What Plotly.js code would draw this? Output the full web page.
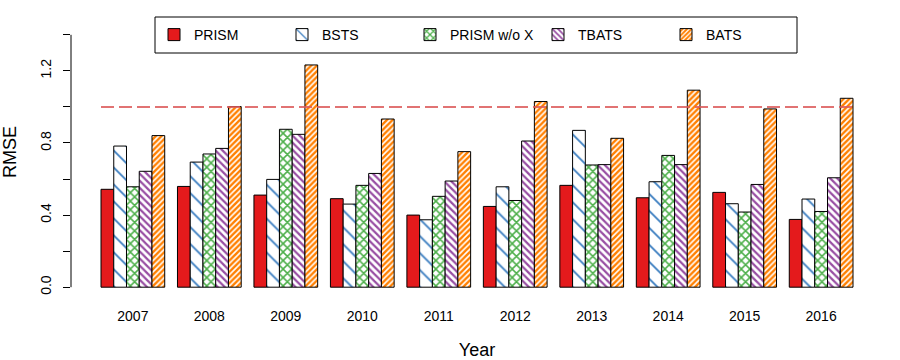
<!DOCTYPE html>
<html>
<head>
<meta charset="utf-8">
<script src="https://cdn.plot.ly/plotly-3.0.1.min.js"></script>
<style>html,body{margin:0;padding:0;background:#fff;}#chart{width:900px;height:360px;}</style>
</head>
<body>
<div id="chart"></div>
<script>
const years = ['2007','2008','2009','2010','2011','2012','2013','2014','2015','2016'];
const seriesNames = ['PRISM','BSTS','PRISM w/o X','TBATS','BATS'];
const prism    = [0.543,0.559,0.511,0.491,0.400,0.448,0.565,0.496,0.526,0.376];
const bsts     = [0.783,0.694,0.598,0.461,0.374,0.557,0.870,0.585,0.463,0.489];
const prismNoX = [0.557,0.739,0.876,0.565,0.504,0.481,0.678,0.731,0.417,0.420];
const tbats    = [0.643,0.770,0.848,0.631,0.589,0.811,0.680,0.680,0.570,0.607];
const bats     = [0.841,1.002,1.233,0.933,0.752,1.030,0.826,1.093,0.989,1.048];
const refLevel = 1.0;
const yTickVals = [0,0.2,0.4,0.6,0.8,1.0,1.2,1.4];
const yTickText = ['0.0','','0.4','','0.8','','1.2',''];

const FONT = 'Liberation Sans, Arial, Helvetica, sans-serif';
const values = [prism,bsts,prismNoX,tbats,bats];
const fills = [
  {color:'#E41A1C', pattern:{shape:''}},
  {color:'#FFFFFF', pattern:{shape:'\\', fgcolor:'#3A7DC0', bgcolor:'#FFFFFF', fgopacity:1, size:12, solidity:0.15, fillmode:'overlay'}},
  {color:'#FFFFFF', pattern:{shape:'x', fgcolor:'#4DAF4A', bgcolor:'#FFFFFF', fgopacity:1, size:6, solidity:0.45, fillmode:'overlay'}},
  {color:'#FFFFFF', pattern:{shape:'\\', fgcolor:'#984EA3', bgcolor:'#FFFFFF', fgopacity:1, size:5, solidity:0.45, fillmode:'overlay'}},
  {color:'#FFFFFF', pattern:{shape:'/', fgcolor:'#FF7F00', bgcolor:'#FFFFFF', fgopacity:1, size:4, solidity:0.6, fillmode:'overlay'}}
];

const traces = seriesNames.map((name,i)=>({
  type:'bar', name:name, x:years, y:values[i],
  marker:{color:fills[i].color, pattern:fills[i].pattern, line:{color:'#000', width:1}},
  hoverinfo:'x+y+name'
}));

const layout = {
  width:900, height:360,
  margin:{l:71, r:17, t:6, b:62},
  paper_bgcolor:'#fff', plot_bgcolor:'#fff',
  font:{family:FONT, color:'#000', size:14},
  barmode:'group', bargap:1/6, bargroupgap:0,
  showlegend:true,
  legend:{orientation:'h', x:(154-71)/812, xanchor:'left', y:(298-35)/292, yanchor:'middle',
          entrywidth:83, entrywidthmode:'pixels', font:{size:14, family:FONT},
          bgcolor:'rgba(0,0,0,0)', borderwidth:0, traceorder:'normal'},
  xaxis:{type:'category', range:[-0.809, 9.809], showline:false, ticks:'', showgrid:false, zeroline:false,
         tickfont:{size:14}, ticklabelstandoff:8,
         title:{text:'Year', font:{size:18}, standoff:21}},
  yaxis:{range:[-0.06, 1.56], showline:false, showgrid:false, zeroline:false,
         tickmode:'array', tickvals:yTickVals, ticktext:yTickText, ticks:'outside', ticklen:7, tickwidth:1, tickcolor:'#000',
         tickangle:-90, tickfont:{size:14}, ticklabelstandoff:6,
         title:{text:'RMSE', font:{size:18}, standoff:19}},
  shapes:[
    {type:'line', xref:'paper', yref:'y', x0:0, x1:0, y0:0, y1:1.4, line:{color:'#000', width:1}},
    {type:'line', xref:'x', yref:'y', x0:-0.4167, x1:9.4167, y0:refLevel, y1:refLevel, layer:'above',
     line:{color:'rgba(220,90,90,0.85)', width:2, dash:'13px,5px'}},
    {type:'rect', xref:'paper', yref:'paper', x0:(155-71)/812, x1:(797-71)/812, y0:(298-53)/292, y1:(298-17)/292,
     line:{color:'#000', width:1}, fillcolor:'rgba(0,0,0,0)', layer:'above'}
  ]
};

Plotly.newPlot('chart', traces, layout, {displayModeBar:false, staticPlot:true});
</script>
</body>
</html>
